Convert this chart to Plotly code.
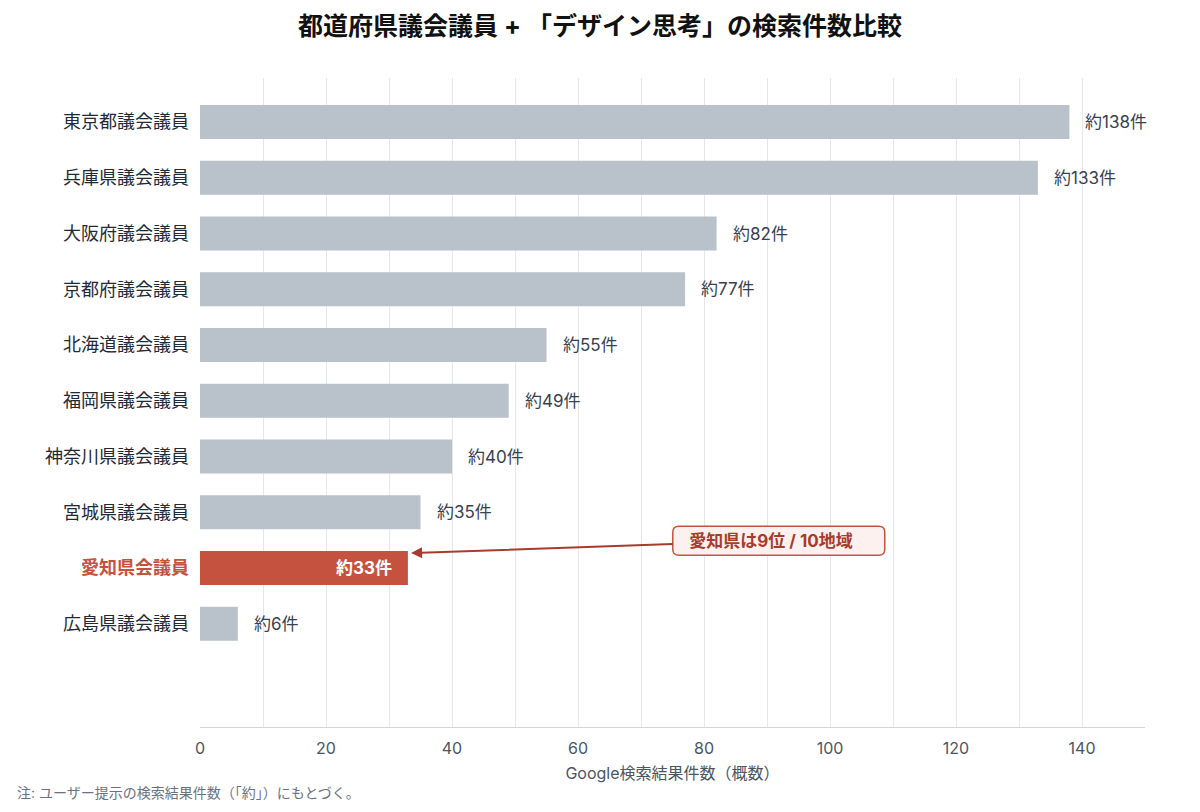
import plotly.graph_objects as go

categories = ["東京都議会議員", "兵庫県議会議員", "大阪府議会議員", "京都府議会議員", "北海道議会議員",
              "福岡県議会議員", "神奈川県議会議員", "宮城県議会議員", "愛知県会議員", "広島県議会議員"]
values = [138, 133, 82, 77, 55, 49, 40, 35, 33, 6]
highlight = "愛知県会議員"
x_ticks = [0, 20, 40, 60, 80, 100, 120, 140]

FONT = "Inter, Noto Sans CJK JP, sans-serif"
GRAY = "#b9c1cb"
RED = "#c5523f"
DARK_RED = "#a83b2d"

W, H = 1184, 796
ML, MR, MT, MB = 192, 47, 70, 77
PW, PH = W - ML - MR, H - MT - MB

idx = list(range(len(categories)))
colors = [RED if c == highlight else GRAY for c in categories]

fig = go.Figure()
fig.add_trace(go.Bar(
    x=values, y=idx, orientation="h", width=0.61,
    marker=dict(color=colors, line=dict(width=0)),
    hoverinfo="skip", showlegend=False,
))

for i, (c, v) in enumerate(zip(categories, values)):
    label = f"約{v}件"
    if c == highlight:
        fig.add_annotation(x=v, y=i, xref="x", yref="y", text=f"<b>{label}</b>",
                           showarrow=False, xanchor="right", xshift=-14,
                           font=dict(family=FONT, size=17, color="white"))
    else:
        fig.add_annotation(x=v, y=i, xref="x", yref="y", text=label,
                           showarrow=False, xanchor="left", xshift=14,
                           font=dict(family=FONT, size=17, color="#374151"))

hi_i = categories.index(highlight)
hi_v = values[hi_i]
box_x, box_y = 90.6, hi_i - 0.49

# rounded callout box (pixel-sized, anchored at callout position)
x0, x1, y0, y1, r = -98, 114, -14.5, 14.5, 6
path = (f"M {x0+r},{y0} L {x1-r},{y0} Q {x1},{y0} {x1},{y0+r} L {x1},{y1-r} "
        f"Q {x1},{y1} {x1-r},{y1} L {x0+r},{y1} Q {x0},{y1} {x0},{y1-r} "
        f"L {x0},{y0+r} Q {x0},{y0} {x0+r},{y0} Z")
fig.add_shape(type="path", path=path, xref="x", yref="y",
              xsizemode="pixel", ysizemode="pixel", xanchor=box_x, yanchor=box_y,
              fillcolor="#fdf1ef", line=dict(color=RED, width=1.5), layer="above")

fig.add_annotation(
    x=hi_v + 0.5, y=hi_i - 0.27, xref="x", yref="y",
    ax=box_x, ay=box_y, axref="x", ayref="y",
    text="<b>愛知県は9位 / 10地域</b>",
    showarrow=True, arrowhead=2, arrowsize=1.1, arrowwidth=2, arrowcolor=DARK_RED,
    font=dict(family=FONT, size=17, color=DARK_RED),
    bgcolor="rgba(0,0,0,0)", borderwidth=0, borderpad=4,
    width=188, height=21, align="center",
)

ticktext = [f"<span style='color:{RED}'><b>{c}</b></span>" if c == highlight else c for c in categories]

fig.update_layout(
    width=W, height=H,
    margin=dict(l=ML, r=MR, t=MT, b=MB),
    plot_bgcolor="white", paper_bgcolor="white",
    font=dict(family=FONT, color="#1f2937"),
    title=dict(text="<b>都道府県議会議員 + 「デザイン思考」の検索件数比較</b>",
               x=(600 - 8) / W, xanchor="center", y=1 - 18 / H, yanchor="middle",
               font=dict(family=FONT, size=25, color="#111111")),
    xaxis=dict(range=[0, 150], tickvals=x_ticks, showgrid=True, gridcolor="#e5e7eb", gridwidth=1,
               minor=dict(dtick=10, tick0=0, showgrid=True, gridcolor="#e5e7eb", gridwidth=1),
               zeroline=False, showline=True, linecolor="#d1d5db", linewidth=1,
               ticks="", ticklabelstandoff=7,
               tickfont=dict(family=FONT, size=16, color="#4b5563"),
               title=dict(text="Google検索結果件数（概数）", standoff=10,
                          font=dict(family=FONT, size=16, color="#4b5563"))),
    yaxis=dict(range=[10.85, -0.79], tickvals=idx, ticktext=ticktext,
               showgrid=False, zeroline=False, showline=False, ticks="",
               ticklabelstandoff=10,
               tickfont=dict(family=FONT, size=18, color="#1f2937")),
)

fig.add_annotation(xref="paper", yref="paper", x=(7 - ML) / PW, y=(MT + PH - 784) / PH,
                   xanchor="left", yanchor="middle", showarrow=False,
                   text="注: ユーザー提示の検索結果件数（｢約｣）にもとづく。",
                   font=dict(family=FONT, size=14, color="#6b7280"))

fig.write_html("out.html")
